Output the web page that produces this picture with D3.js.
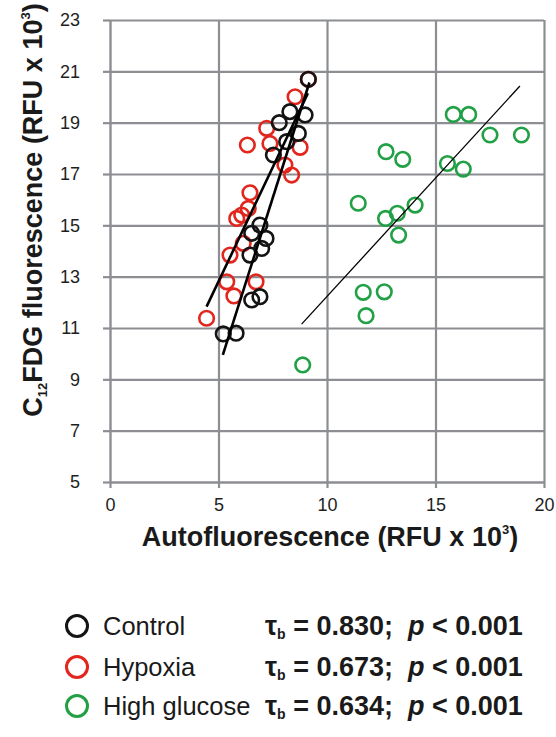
<!DOCTYPE html>
<html>
<head>
<meta charset="utf-8">
<script src="https://cdn.jsdelivr.net/npm/d3@7"></script>
<style>
  body { margin: 0; background: #fff; }
  svg { font-family: "Liberation Sans", Arial, sans-serif; }
</style>
</head>
<body>
<div id="chart"></div>
<script>
// values (RFU x 10^3)
var controlX = [9.14, 8.29, 8.99, 7.80, 8.68, 8.14, 7.53, 6.91, 7.19, 6.53, 6.99, 6.45, 6.91, 6.53, 5.22, 5.81];
var controlY = [20.69, 19.43, 19.30, 19.00, 18.58, 18.26, 17.74, 15.01, 14.49, 14.69, 14.10, 13.84, 12.22, 12.09, 10.77, 10.80];

var hypoxiaX = [9.14, 8.53, 7.22, 7.37, 6.33, 8.76, 8.06, 8.37, 6.45, 6.37, 6.07, 5.84, 6.14, 5.53, 5.38, 6.73, 5.71, 4.45];
var hypoxiaY = [20.69, 20.01, 18.78, 18.19, 18.13, 18.04, 17.35, 16.96, 16.27, 15.66, 15.40, 15.27, 14.30, 13.84, 12.80, 12.80, 12.25, 11.38];

var glucoseX = [15.82, 16.53, 17.51, 18.96, 12.72, 13.49, 15.55, 16.28, 11.44, 14.06, 13.24, 12.70, 13.30, 11.67, 12.64, 11.80, 8.88];
var glucoseY = [19.32, 19.32, 18.52, 18.52, 17.87, 17.57, 17.41, 17.19, 15.86, 15.79, 15.47, 15.27, 14.62, 12.39, 12.41, 11.48, 9.56];

// trend lines: y = slope*x + intercept, drawn from xFrom to xTo
var groupNames = ["Control", "Hypoxia", "High glucose"];
var fitSlope = [2.66, 1.78, 0.922];
var fitIntercept = [-3.88, 3.91, 3.01];
var fitFrom = [5.2, 4.45, 8.83];
var fitTo = [9.19, 9.12, 18.89];
var tauB = ["0.830", "0.673", "0.634"];

var xTicks = [0, 5, 10, 15, 20];
var yTicks = [5, 7, 9, 11, 13, 15, 17, 19, 21, 23];

var colours = ["#141414", "#e2261e", "#22a046"];
var fitWidth = [2.6, 2.6, 1.3];

var W = 556, H = 737;
var mLeft = 110, mRight = 544, mTop = 20, mBottom = 482;
var gridCol = "#8c8e92";

var svg = d3.select("#chart").append("svg")
    .attr("width", W).attr("height", H);

var x = d3.scaleLinear().domain([0, 20]).range([mLeft, mRight]);
var y = d3.scaleLinear().domain([5, 23]).range([mBottom, mTop]);

// grid
svg.append("g")
    .attr("transform", "translate(0," + mBottom + ")")
    .call(d3.axisBottom(x).tickValues(xTicks.slice(1)).tickSize(-(mBottom - mTop)).tickFormat(""))
    .call(function(g){ g.select(".domain").remove(); })
    .selectAll("line").attr("stroke", gridCol).attr("stroke-width", 2.2);

svg.append("g")
    .attr("transform", "translate(" + mLeft + ",0)")
    .call(d3.axisLeft(y).tickValues(yTicks.slice(1)).tickSize(-(mRight - mLeft)).tickFormat(""))
    .call(function(g){ g.select(".domain").remove(); })
    .selectAll("line").attr("stroke", gridCol).attr("stroke-width", 2.2);

// axes
var xAxis = svg.append("g")
    .attr("transform", "translate(0," + mBottom + ")")
    .call(d3.axisBottom(x).tickValues(xTicks).tickSize(6).tickSizeOuter(0).tickPadding(10));
var yAxis = svg.append("g")
    .attr("transform", "translate(" + mLeft + ",0)")
    .call(d3.axisLeft(y).tickValues(yTicks).tickSize(7).tickSizeOuter(0).tickPadding(23));

[xAxis, yAxis].forEach(function(a){
    a.select(".domain").attr("stroke", gridCol).attr("stroke-width", 2.4);
    a.selectAll(".tick line").attr("stroke", gridCol).attr("stroke-width", 2.2);
    a.selectAll(".tick text")
        .attr("fill", "#1e1e1e")
        .style("font-size", "18px")
        .style("font-family", "Liberation Sans, Arial, sans-serif");
});

// points
var groups = [
    d3.zip(controlX, controlY),
    d3.zip(hypoxiaX, hypoxiaY),
    d3.zip(glucoseX, glucoseY)
];
var drawOrder = [1, 0, 2];
drawOrder.forEach(function(gi){
    svg.append("g").selectAll("circle")
        .data(groups[gi])
        .enter().append("circle")
        .attr("cx", function(d){ return x(d[0]); })
        .attr("cy", function(d){ return y(d[1]); })
        .attr("r", 7.3)
        .attr("fill", "none")
        .attr("stroke", colours[gi])
        .attr("stroke-width", 2.6);
});

// fitted lines
groupNames.forEach(function(n, i){
    var pts = [fitFrom[i], fitTo[i]].map(function(v){ return [v, fitSlope[i]*v + fitIntercept[i]]; });
    svg.append("path")
        .attr("d", d3.line().x(function(d){ return x(d[0]); }).y(function(d){ return y(d[1]); })(pts))
        .attr("stroke", "#000")
        .attr("stroke-width", fitWidth[i])
        .attr("fill", "none");
});

// axis titles
var xt = svg.append("text")
    .attr("x", 330).attr("y", 546)
    .attr("text-anchor", "middle")
    .attr("font-size", "27px").attr("font-weight", "bold").attr("fill", "#1a1a1a");
xt.append("tspan").text("Autofluorescence (RFU x 10");
xt.append("tspan").attr("font-size", "13px").attr("dy", -12).text("3");
xt.append("tspan").attr("dy", 12).text(")");

var yt = svg.append("text")
    .attr("transform", "translate(42,210) rotate(-90)")
    .attr("text-anchor", "middle")
    .attr("font-size", "27px").attr("font-weight", "bold").attr("fill", "#1a1a1a");
yt.append("tspan").text("C");
yt.append("tspan").attr("font-size", "13px").attr("dy", 5).text("12");
yt.append("tspan").attr("dy", -5).text("FDG fluorescence (RFU x 10");
yt.append("tspan").attr("font-size", "13px").attr("dy", -12).text("3");
yt.append("tspan").attr("dy", 12).text(")");

// legend
var rowY = [635, 676, 715];
groupNames.forEach(function(n, i){
    var g = svg.append("g");
    g.append("circle")
        .attr("cx", 77).attr("cy", rowY[i] - 9)
        .attr("r", 10.5)
        .attr("fill", "none")
        .attr("stroke", colours[i])
        .attr("stroke-width", 3);
    g.append("text")
        .attr("x", 103).attr("y", rowY[i])
        .attr("font-size", "25.5px").attr("fill", "#1a1a1a")
        .text(n);
    var s = g.append("text")
        .attr("x", 265).attr("y", rowY[i])
        .attr("font-size", "27px").attr("font-weight", "bold").attr("fill", "#1a1a1a");
    s.append("tspan").text("\u03c4");
    s.append("tspan").attr("font-size", "14px").attr("dy", 4).text("b");
    s.append("tspan").attr("dy", -4).text(" = " + tauB[i] + ";\u00a0\u00a0");
    s.append("tspan").attr("font-style", "italic").text("p");
    s.append("tspan").text(" < 0.001");
});
</script>
</body>
</html>
